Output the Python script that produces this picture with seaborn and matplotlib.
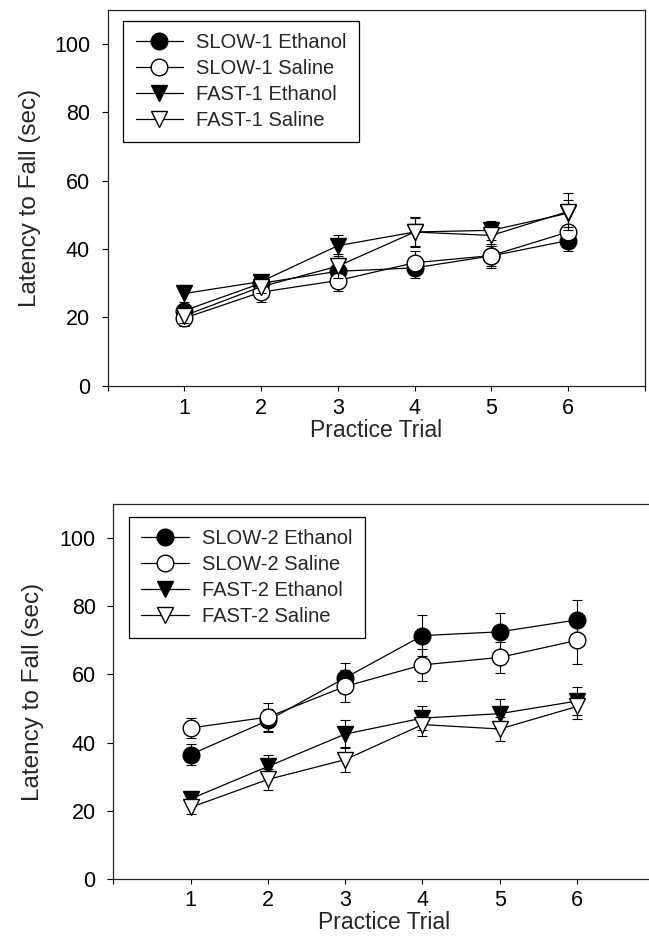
import numpy as np
import pandas as pd
import matplotlib
matplotlib.use("Agg")
import matplotlib.pyplot as plt
import seaborn as sns

# ---------------- data ----------------
trials = [1, 2, 3, 4, 5, 6]

labels_top = ["SLOW-1 Ethanol", "SLOW-1 Saline", "FAST-1 Ethanol", "FAST-1 Saline"]
slow1_eth = [22.0, 30.0, 33.5, 34.5, 38.0, 42.5]
slow1_eth_err = [2.0, 1.5, 2.0, 3.0, 3.0, 3.0]
slow1_sal = [19.8, 27.4, 30.8, 36.0, 38.1, 45.0]
slow1_sal_err = [2.2, 2.8, 3.0, 3.5, 3.5, 2.0]
fast1_eth = [27.0, 30.5, 41.0, 45.0, 45.5, 50.5]
fast1_eth_err = [2.5, 1.5, 3.0, 4.0, 2.8, 4.0]
fast1_sal = [20.5, 29.0, 35.0, 45.0, 44.0, 51.0]
fast1_sal_err = [2.0, 2.0, 3.5, 4.5, 3.0, 5.5]

labels_bot = ["SLOW-2 Ethanol", "SLOW-2 Saline", "FAST-2 Ethanol", "FAST-2 Saline"]
slow2_eth = [36.5, 46.5, 59.0, 71.4, 72.5, 76.0]
slow2_eth_err = [3.0, 3.5, 4.5, 6.0, 5.5, 5.7]
slow2_sal = [44.3, 47.5, 56.5, 62.8, 65.0, 70.0]
slow2_sal_err = [3.0, 4.0, 4.7, 4.7, 4.5, 7.0]
fast2_eth = [23.5, 33.0, 42.5, 47.2, 48.5, 52.2]
fast2_eth_err = [2.0, 3.5, 4.0, 3.6, 4.4, 4.0]
fast2_sal = [21.0, 29.2, 35.0, 45.3, 44.0, 50.6]
fast2_sal_err = [2.0, 3.0, 3.6, 3.4, 3.5, 3.7]

yticks = [0, 20, 40, 60, 80, 100]
xlabel = "Practice Trial"
ylabel = "Latency to Fall (sec)"

# ---------------- style ----------------
sns.set_style("ticks")
plt.rcParams["font.family"] = ["Liberation Sans", "DejaVu Sans"]

fig = plt.figure(figsize=(6.49, 9.38), dpi=100)
ax_top = fig.add_axes([0.1660, 0.5888, 0.8274, 0.4005])
ax_bot = fig.add_axes([0.1746, 0.0629, 0.8336, 0.3998])

marker_styles = [
    dict(marker="o", markerfacecolor="black"),
    dict(marker="o", markerfacecolor="white"),
    dict(marker="v", markerfacecolor="black"),
    dict(marker="v", markerfacecolor="white"),
]


def draw_panel(ax, labels, means, errs, legend_xy, ylab_x, xtick_pad):
    rows = []
    for lab, m in zip(labels, means):
        for t, v in zip(trials, m):
            rows.append({"Trial": t, "Latency": v, "Group": lab})
    df = pd.DataFrame(rows)
    for i, (lab, m, e) in enumerate(zip(labels, means, errs)):
        ax.errorbar(trials, m, yerr=e, fmt="none", ecolor="black",
                    elinewidth=0.8, capsize=3.6, capthick=0.8, zorder=2 + 2 * i)
        sub = df[df["Group"] == lab]
        sns.lineplot(data=sub, x="Trial", y="Latency", ax=ax, color="black",
                     linewidth=0.9, markersize=12, markeredgecolor="black",
                     markeredgewidth=1.0, label=lab, zorder=3 + 2 * i,
                     **marker_styles[i])
    ax.set_xlim(0, 7)
    ax.set_ylim(0, 110)
    ax.set_yticks(yticks)
    ax.set_yticklabels([str(v) for v in yticks])
    ax.set_xticks(range(0, 8))
    ax.set_xticklabels([""] + [str(t) for t in trials] + [""])
    ax.tick_params(axis="y", direction="out", length=4.3, width=0.8,
                   pad=8.4, labelsize=15.5, colors="black")
    ax.tick_params(axis="x", direction="out", length=3.8, width=0.8,
                   pad=xtick_pad, labelsize=15.5, colors="black")
    for sp in ax.spines.values():
        sp.set_color("#222222")
        sp.set_linewidth(0.9)
    ax.set_xlabel(xlabel, fontsize=16.5, labelpad=0)
    ax.set_ylabel(ylabel, fontsize=17.5)
    ax.yaxis.set_label_coords(ylab_x, 0.5)
    leg = ax.legend(loc="upper left", bbox_to_anchor=legend_xy,
                    borderaxespad=0, fontsize=14.5, frameon=True, fancybox=False,
                    edgecolor="black", framealpha=1, handlelength=2.35,
                    handletextpad=0.65, borderpad=0.62, labelspacing=0.34,
                    numpoints=1)
    leg.get_frame().set_linewidth(0.9)
    leg.set_zorder(20)


draw_panel(ax_top, labels_top,
           [slow1_eth, slow1_sal, fast1_eth, fast1_sal],
           [slow1_eth_err, slow1_sal_err, fast1_eth_err, fast1_sal_err],
           (0.0285, 0.971), -0.125, 5.0)
draw_panel(ax_bot, labels_bot,
           [slow2_eth, slow2_sal, fast2_eth, fast2_sal],
           [slow2_eth_err, slow2_sal_err, fast2_eth_err, fast2_sal_err],
           (0.029, 0.966), -0.128, 4.0)

fig.savefig("out.png", dpi=100, facecolor="white")
